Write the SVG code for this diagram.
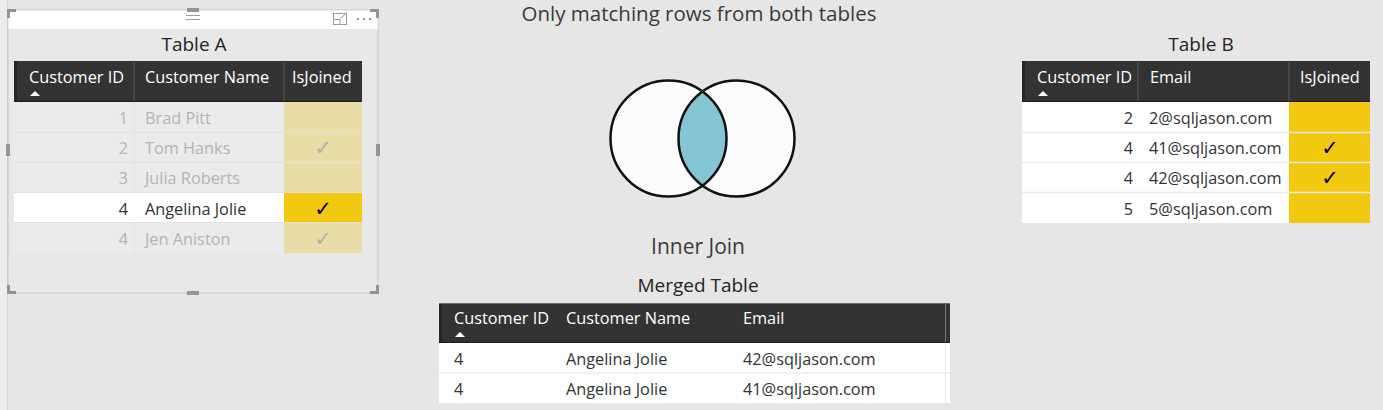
<svg xmlns="http://www.w3.org/2000/svg" width="1383" height="410" viewBox="0 0 1383 410">
<style>
text{font-family:"Open Sans","Noto Sans","Liberation Sans",sans-serif;}
.hdr{fill:#333333;}
.ht{fill:#ffffff;font-size:16.3px;}
.t{fill:#333333;font-size:16.3px;}
.f{fill:#b4b4b4;font-size:16.3px;}
.title{fill:#252423;font-size:19px;text-anchor:middle;}
.r{text-anchor:end;}
.ck{font-family:"DejaVu Sans",sans-serif;font-size:21px;text-anchor:middle;}
.handle{fill:#949494;}
.sep{stroke:#5a5a5a;stroke-width:1;}
</style>
<rect x="0" y="0" width="1383" height="410" fill="#e6e6e6"/>
<rect x="0" y="0" width="7" height="410" fill="#ececec"/>
<line x1="7.5" y1="0" x2="7.5" y2="410" stroke="#d4d4d4"/>

<g id="frame-a">
<rect x="8" y="10" width="370" height="283" fill="#e8e8e8" stroke="#c6c6c6" stroke-width="1"/>
<rect x="8.5" y="10.5" width="369" height="18.5" fill="#ffffff"/>
<line x1="186" y1="15.5" x2="200" y2="15.5" stroke="#9a9a9a"/>
<line x1="186" y1="19.5" x2="200" y2="19.5" stroke="#9a9a9a"/>
<rect x="333.5" y="13.5" width="13" height="11" fill="none" stroke="#9a9a9a"/>
<path d="M333.5 19.5h6.5v5" fill="none" stroke="#9a9a9a"/>
<path d="M340 18.5l5.5-4.5" fill="none" stroke="#9a9a9a"/>
<circle cx="358" cy="19" r="1.1" fill="#777"/><circle cx="364" cy="19" r="1.1" fill="#777"/><circle cx="370" cy="19" r="1.1" fill="#777"/>
<path class="handle" d="M7 9h9v3h-6v6h-3z"/>
<path class="handle" d="M379 9h-9v3h6v6h3z"/>
<path class="handle" d="M7 294h9v-3h-6v-6h-3z"/>
<path class="handle" d="M379 294h-9v-3h6v-6h3z"/>
<rect class="handle" x="187" y="8" width="12" height="4"/>
<rect class="handle" x="187" y="291" width="12" height="4"/>
<rect class="handle" x="6" y="144" width="4" height="12"/>
<rect class="handle" x="376" y="144" width="4" height="12"/>
</g>

<g id="table-a">
<text class="title" x="194" y="51">Table A</text>
<rect class="hdr" x="14" y="61" width="348" height="41"/>
<rect x="14" y="61" width="3" height="41" fill="#262626"/>
<line x1="14" y1="101.5" x2="362" y2="101.5" stroke="#1f1f1f" stroke-width="1.5"/>
<line class="sep" x1="134" y1="62" x2="134" y2="101"/>
<line class="sep" x1="284" y1="62" x2="284" y2="101"/>
<text class="ht" x="29" y="83">Customer ID</text>
<path d="M30 96l5-5 5 5z" fill="#ffffff"/>
<text class="ht" x="145" y="83">Customer Name</text>
<text class="ht" x="292" y="83">IsJoined</text>
<g>
<rect x="14" y="102" width="270" height="30" fill="#ebebeb"/>
<rect x="284" y="102" width="78" height="30" fill="#e8dda6"/>
<rect x="14" y="132" width="270" height="30" fill="#ebebeb"/>
<rect x="284" y="132" width="78" height="30" fill="#e8dda6"/>
<rect x="14" y="162" width="270" height="30" fill="#ebebeb"/>
<rect x="284" y="162" width="78" height="30" fill="#e8dda6"/>
<rect x="14" y="193" width="270" height="30" fill="#ffffff"/>
<rect x="284" y="193" width="78" height="30" fill="#f2c811"/>
<rect x="14" y="223" width="270" height="30" fill="#ebebeb"/>
<rect x="284" y="223" width="78" height="30" fill="#e8dda6"/>
<path d="M14 132.5h348M14 162.5h348M14 192.5h348M14 222.5h348" stroke="#e2e2e2" stroke-width="1"/>
<path d="M134 102v90M134 223v30" stroke="#e2e2e2"/>
</g>
<text class="f r" x="128" y="124">1</text><text class="f" x="145" y="124">Brad Pitt</text>
<text class="f r" x="128" y="154">2</text><text class="f" x="145" y="154">Tom Hanks</text><text class="ck" x="323" y="155" fill="#b0b0b0">✓</text>
<text class="f r" x="128" y="184">3</text><text class="f" x="145" y="184">Julia Roberts</text>
<text class="t r" x="128" y="215">4</text><text class="t" x="145" y="215">Angelina Jolie</text><text class="ck" x="323" y="216" fill="#000000">✓</text>
<text class="f r" x="128" y="245">4</text><text class="f" x="145" y="245">Jen Aniston</text><text class="ck" x="323" y="246" fill="#b0b0b0">✓</text>
</g>

<g id="venn">
<text class="title" x="699" y="21" style="font-size:20.5px;fill:#3b3a39">Only matching rows from both tables</text>
<circle cx="668.5" cy="138.5" r="58" fill="#fbfbfb"/>
<circle cx="736.5" cy="138.5" r="58" fill="#fbfbfb"/>
<path d="M702.5 91.5A58 58 0 0 1 702.5 185.5A58 58 0 0 1 702.5 91.5z" fill="#84c5d4"/>
<circle cx="668.5" cy="138.5" r="58" fill="none" stroke="#111" stroke-width="2.5"/>
<circle cx="736.5" cy="138.5" r="58" fill="none" stroke="#111" stroke-width="2.5"/>
<text class="title" x="698" y="254" style="font-size:21px;fill:#3b3a39">Inner Join</text>
</g>

<g id="table-b">
<text class="title" x="1201" y="51">Table B</text>
<rect class="hdr" x="1022" y="61" width="348" height="41"/>
<rect x="1022" y="61" width="3" height="41" fill="#262626"/>
<line x1="1022" y1="101.5" x2="1370" y2="101.5" stroke="#1f1f1f" stroke-width="1.5"/>
<line class="sep" x1="1138" y1="62" x2="1138" y2="101" stroke="#444"/>
<line class="sep" x1="1289" y1="62" x2="1289" y2="101" stroke="#444"/>
<text class="ht" x="1037" y="83">Customer ID</text>
<path d="M1038 96l5-5 5 5z" fill="#ffffff"/>
<text class="ht" x="1150" y="83">Email</text>
<text class="ht" x="1300" y="83">IsJoined</text>
<rect x="1022" y="102" width="267" height="121" fill="#ffffff"/>
<rect x="1289" y="102" width="81" height="121" fill="#f2c811"/>
<path d="M1022 132.5h348M1022 162.5h348M1022 192.5h348" stroke="#ebebeb" stroke-width="1.5"/>
<text class="t r" x="1133" y="124">2</text><text class="t" x="1149" y="124">2@sqljason.com</text>
<text class="t r" x="1133" y="154">4</text><text class="t" x="1149" y="154">41@sqljason.com</text><text class="ck" x="1330" y="155" fill="#000">✓</text>
<text class="t r" x="1133" y="184">4</text><text class="t" x="1149" y="184">42@sqljason.com</text><text class="ck" x="1330" y="185" fill="#000">✓</text>
<text class="t r" x="1133" y="215">5</text><text class="t" x="1149" y="215">5@sqljason.com</text>
</g>

<g id="merged-table">
<text class="title" x="698" y="292">Merged Table</text>
<rect class="hdr" x="439" y="303" width="511" height="40"/>
<rect x="439" y="303" width="3" height="40" fill="#262626"/>
<line x1="439" y1="303.5" x2="950" y2="303.5" stroke="#6a6a6a"/>
<line x1="439" y1="342.5" x2="950" y2="342.5" stroke="#1f1f1f" stroke-width="1.5"/>
<line x1="945.5" y1="304" x2="945.5" y2="342" stroke="#777"/>
<text class="ht" x="454" y="324">Customer ID</text>
<path d="M455 337l5-5 5 5z" fill="#ffffff"/>
<text class="ht" x="566" y="324">Customer Name</text>
<text class="ht" x="743" y="324">Email</text>
<rect x="439" y="343" width="511" height="60" fill="#ffffff"/>
<path d="M439 373h511" stroke="#ebebeb" stroke-width="1.5"/>
<line x1="945.5" y1="343" x2="945.5" y2="403" stroke="#ebebeb"/>
<text class="t" x="454" y="365">4</text><text class="t" x="566" y="365">Angelina Jolie</text><text class="t" x="743" y="365">42@sqljason.com</text>
<text class="t" x="454" y="395">4</text><text class="t" x="566" y="395">Angelina Jolie</text><text class="t" x="743" y="395">41@sqljason.com</text>
</g>
</svg>
